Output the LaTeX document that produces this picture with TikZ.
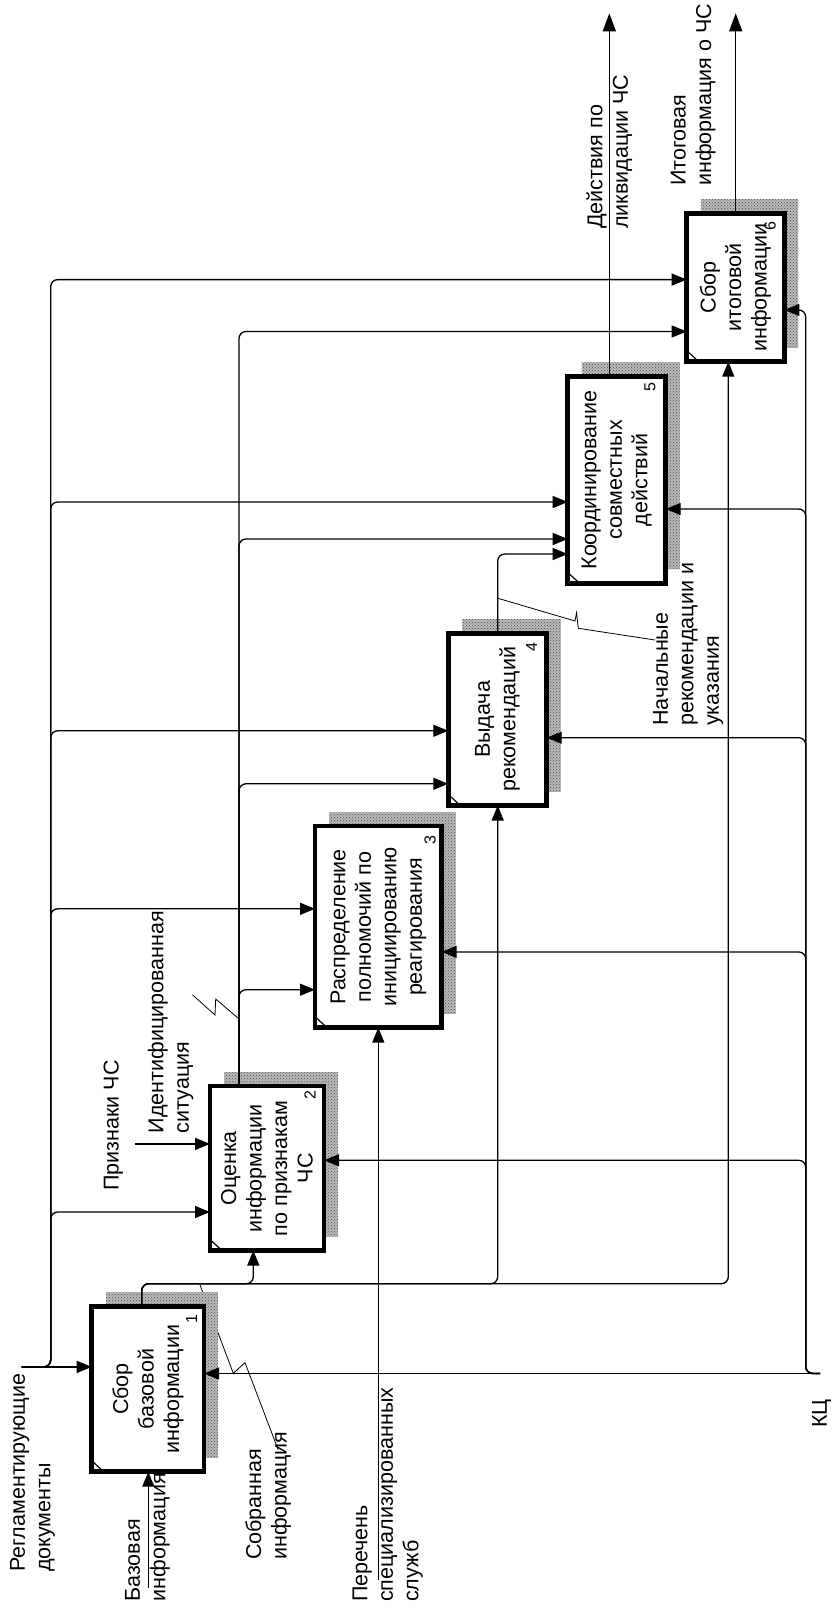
\documentclass[tikz,border=0pt]{standalone}
\usepackage{fontspec}
\setmainfont{Liberation Sans}
\usetikzlibrary{arrows.meta,patterns,backgrounds}
\begin{document}
\begin{tikzpicture}[x=1pt,y=-1pt,
  boxstyle/.style={draw,line width=4.5pt,fill=white,inner sep=0pt,outer sep=0pt},
  txt/.style={rotate=90,font=\fontsize{21.5}{25.5}\selectfont,inner sep=0pt,align=center},
  lbl/.style={rotate=90,font=\fontsize{21.5}{25.5}\selectfont,inner sep=0pt,align=left,anchor=west},
  num/.style={rotate=90,font=\fontsize{16}{18}\selectfont,inner sep=0pt},
  conn/.style={line width=1.3pt,rounded corners=7pt},
  arr/.style={conn,-{Triangle[length=15pt,width=12pt]}},
  bigarr/.style={conn,-{Triangle[length=18pt,width=13pt]}},
  squig/.style={line width=0.8pt},
  shadowfill/.style={fill=gray!55,postaction={pattern=crosshatch dots,pattern color=black!70}}
]
\useasboundingbox (0,0) rectangle (835,1608);

% boxes
\node[boxstyle,minimum width=112.3pt,minimum height=165.3pt] (b1) at (147.85,1389.05) {};
\node[boxstyle,minimum width=114pt,minimum height=164.3pt] (b2) at (267,1168.35) {};
\node[boxstyle,minimum width=126.7pt,minimum height=201.6pt] (b3) at (378.35,926.8) {};
\node[boxstyle,minimum width=98.4pt,minimum height=172.2pt] (b4) at (497.5,719.4) {};
\node[boxstyle,minimum width=98pt,minimum height=207pt] (b5) at (616.7,479.9) {};
\node[boxstyle,minimum width=97.6pt,minimum height=148.1pt] (b6) at (735.5,287.55) {};

\begin{scope}[on background layer]
  % squiggle hidden partly by shadow of box 1
  \draw[squig] (200,1285) -- (233.3,1373.3) -- (245,1362.7) -- (278.3,1450);
  \foreach \bb in {b1,b2,b3,b4,b5,b6}{
    \path[shadowfill] ([xshift=14pt,yshift=14pt]\bb.south west) rectangle ([xshift=14pt,yshift=14pt]\bb.north east);
  }
\end{scope}

% corner marks
\foreach \bb in {b1,b2,b3,b4,b5,b6}{
  \draw[line width=1.2pt] ([yshift=11pt]\bb.south west) -- ([xshift=12pt]\bb.south west);
}

% box texts
\node[txt] (t1) at (b1.center) {Сбор\\базовой\\информации};
\node[txt] (t2) at (b2.center) {Оценка\\информации\\по признакам\\ЧС};
\node[txt] (t3) at (b3.center) {Распределение\\полномочий по\\инициированию\\реагирования};
\node[txt] (t4) at (b4.center) {Выдача\\рекомендаций};
\node[txt] (t5) at (b5.center) {Координирование\\совместных\\действий};
\node[txt] (t6) at (b6.center) {Сбор\\итоговой\\информации};

% numbers
\node[num] (n1) at (191.7,1318.6) {1};
\node[num] (n2) at (310,1095) {2};
\node[num] (n3) at (430,840) {3};
\node[num] (n4) at (531.7,647) {4};
\node[num] (n5) at (650,387) {5};
\node[num] (n6) at (770,225.6) {6};

% coordinates
\coordinate (rdin) at (21.7,1366.9);
\coordinate (kc) at (820,1373.5);
\coordinate (bazin) at (148.3,1588);
\coordinate (perin) at (378.3,1580);
\coordinate (prin) at (135,1143.9);
\coordinate (out5) at (609.3,13.3);
\coordinate (out6) at (735.7,13.3);

% controls from "Регламентирующие документы"
\draw[arr] (rdin) -- (b1.west |- rdin);
\foreach \yy/\bb in {1212/b2, 908.8/b3, 730.8/b4, 502/b5, 279.6/b6}{
  \draw[arr] (rdin) -- (50.7,1366.9) -- (50.7,\yy) -- (\bb.west |- 0,\yy);
}
% output of box 2
\foreach \yy/\bb in {989.7/b3, 783.8/b4, 539/b5, 331.5/b6}{
  \draw[arr] (b2.north -| 239,0) -- (239,\yy) -- (\bb.west |- 0,\yy);
}
% mechanism KC
\draw[arr] (kc) -- (b1.east |- kc);
\foreach \yy/\bb in {1160.3/b2, 951.9/b3, 737.7/b4, 509/b5, 310/b6}{
  \draw[arr] (kc) -- (805.7,1373.5) -- (805.7,\yy) -- (\bb.east |- 0,\yy);
}
% output of box 1
\foreach \xx/\bb in {253.3/b2, 497.7/b4, 728.3/b6}{
  \draw[arr] (b1.north -| 141.7,0) -- (141.7,1283.7) -- (\xx,1283.7) -- (\bb.south -| \xx,0);
}
% output of box 4
\draw[arr] (b4.north -| 497.7,0) -- (497.7,554) -- (b5.west |- 0,554);
% outputs
\draw[bigarr] (b5.north -| out5) -- (out5);
\draw[bigarr] (b6.north -| out6) -- (out6);
% inputs from bottom
\draw[arr] (bazin) -- (b1.south -| bazin);
\draw[arr] (perin) -- (b3.south -| perin);
\draw[arr] (prin) -- (b2.west |- prin);

% squiggles
\draw[squig] (192.7,995) -- (215,1015) -- (215.7,999) -- (238.3,1018.3);
\draw[squig] (498,598.3) -- (575,621) -- (576.5,612.7) -- (578.3,628.3) -- (655,640);

% labels
\node[lbl] (l1) at (32.5,1572) {Регламентирующие\\документы};
\node[lbl] (l2) at (147.5,1601.7) {Базовая\\информация};
\node[lbl] (l3) at (268.3,1560) {Собранная\\информация};
\node[lbl] (l4) at (387.8,1602) {Перечень\\специализированных\\служб};
\node[lbl] (l5) at (113.3,1191) {Признаки ЧС};
\node[lbl] (l6) at (170.5,1133.4) {Идентифицированная\\ситуация};
\node[lbl] (l7) at (688.3,726) {Начальные\\рекомендации и\\указания};
\node[lbl] (l8) at (609.2,229) {Действия по\\ликвидации ЧС};
\node[lbl] (l9) at (693.3,186) {Итоговая\\информация о ЧС};
\node[lbl] (l10) at (821.7,1428) {КЦ};
\end{tikzpicture}
\end{document}
